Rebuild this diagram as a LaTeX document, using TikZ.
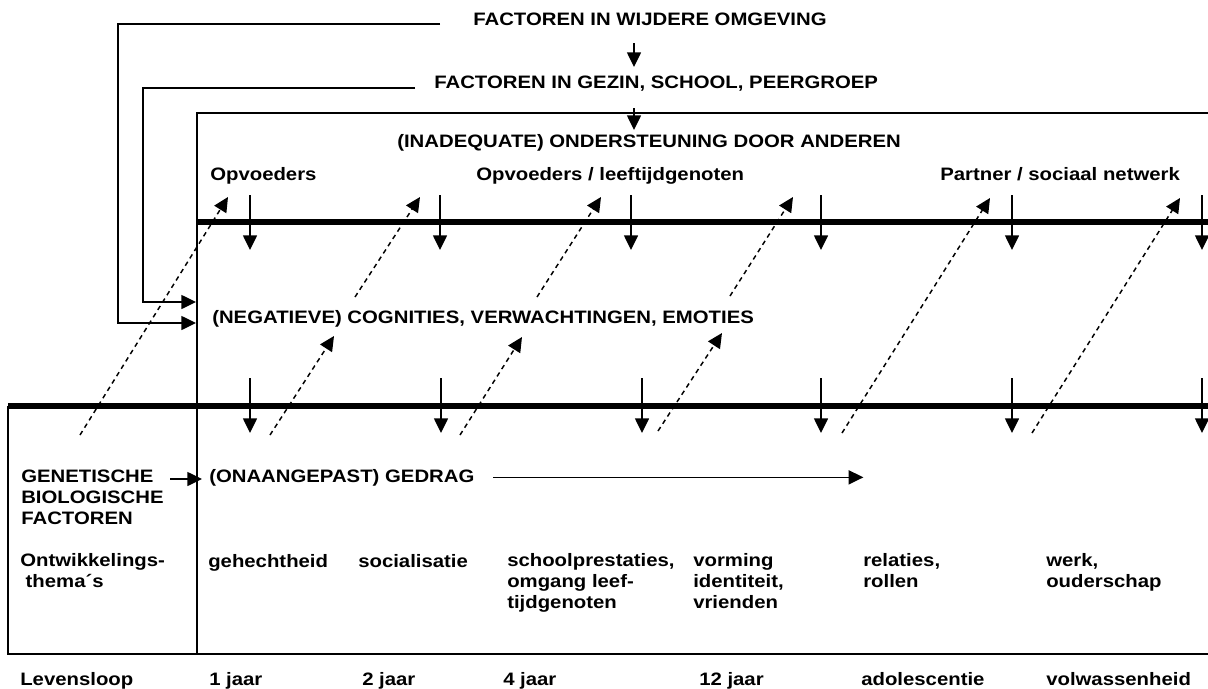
\documentclass[tikz,border=0pt]{standalone}
\usepackage{fontspec}
\setmainfont{Liberation Sans}[FakeStretch=1.13]
\usetikzlibrary{arrows.meta}
\usetikzlibrary{positioning}

\begin{document}
\begin{tikzpicture}[x=0.75pt, y=-0.75pt,
  lbl/.style={anchor=base west, inner sep=0pt, align=left,
              font=\fontsize{13.5}{15.5}\selectfont\bfseries},
  ln/.style={line width=1.1pt},
  arr/.style={ln, -{Triangle[length=11pt, width=10.5pt]}},
  dsh/.style={arr, dash pattern=on 3.5pt off 3pt},
  bar/.style={line width=5pt}]

 \useasboundingbox (0,0) rectangle (1208,689);

 %level 1: omgeving
   \node[lbl] (wide) at (473,25) {FACTOREN IN WIJDERE OMGEVING};
   \node[lbl] (gezin) at (434,88) {FACTOREN IN GEZIN, SCHOOL, PEERGROEP};
   \node[lbl] (steun) at (397,147) {(INADEQUATE) ONDERSTEUNING DOOR ANDEREN};

 %arrow
   \coordinate (w0) at (634,43);  \coordinate (w1) at (634,67);
   \coordinate (g0) at (634,108); \coordinate (g1) at (634,130);
   \draw[arr] (w0) -- (w1);
   \draw[arr] (g0) -- (g1);

 %bent lines to the cognitions
   \coordinate (wl) at (440,24);  \coordinate (wt) at (196,323);
   \coordinate (gl) at (415,88);  \coordinate (gt) at (196,302);
   \draw[arr] (wl) -- ++(-322,0) |- (wt);
   \draw[arr] (gl) -- ++(-272,0) |- (gt);

 %frame
   \draw[ln] (1208,113) -- (197,113) -- (197,654);
   \draw[ln] (8,406) -- (8,654) -- (1208,654);
   \draw[bar] (197,222) -- (1208,222);
   \draw[bar] (8,406) -- (1208,406);

 %level 2: ondersteuning
   \node[lbl] (opv) at (210,180) {Opvoeders};
   \node[lbl] (opvl) at (476,180) {Opvoeders / leeftijdgenoten};
   \node[lbl] (partner) at (940,180) {Partner / sociaal netwerk};

  \foreach \x [count=\i] in {250,440,631,821,1012,1202} {
         \coordinate (up\i) at (\x,195);
         \coordinate (upt\i) at (\x,250);
         \draw[arr] (up\i) -- (upt\i);
 }

 %level 3: cognities
   \node[lbl] (cogn) at (212,323) {(NEGATIEVE) COGNITIES, VERWACHTINGEN, EMOTIES};

  \foreach \x [count=\i] in {250,441,642,821,1012,1202} {
         \coordinate (lo\i) at (\x,378);
         \coordinate (lot\i) at (\x,433);
         \draw[arr] (lo\i) -- (lot\i);
 }

 %dashed feedback
  \foreach \a/\b/\c/\d [count=\i] in {80/435/228/197, 270/435/334/336,
        355/297/420/197, 460/435/522/337, 537/297/601/197, 658/431/722/333,
        730/296/793/197, 842/433/990/198, 1032/433/1180/198} {
         \coordinate (ds\i) at (\a,\b);
         \coordinate (de\i) at (\c,\d);
         \draw[dsh] (ds\i) -- (de\i);
 }

 %level 4: gedrag (base = last line)
   \node[lbl] (gen) at (21,524) {GENETISCHE\\BIOLOGISCHE\\FACTOREN};
   \node[lbl] (gedrag) at (209,482) {(ONAANGEPAST) GEDRAG};
   \coordinate (b0) at (170,479); \coordinate (b1) at (202,479);
   \draw[arr] (b0) -- (b1);
   \draw[arr] ([xshift=14pt]gedrag.east) -- ++(370,0);

 %themes
   \node[lbl] (thema) at (20,587) {Ontwikkelings-\\\hspace{0.3em}thema´s};
   \node[lbl] (t1) at (208,567) {gehechtheid};
   \node[lbl] (t2) at (358,567) {socialisatie};
   \node[lbl] (t3) at (507,608) {schoolprestaties,\\omgang leef-\\tijdgenoten};
   \node[lbl] (t4) at (693,608) {vorming\\identiteit,\\vrienden};
   \node[lbl] (t5) at (863,587) {relaties,\\rollen};
   \node[lbl] (t6) at (1046,587) {werk,\\ouderschap};

 %levensloop
   \node[lbl] (loop) at (20,685) {Levensloop};
  \foreach \x/\name [count=\i] in {209/1 jaar, 362/2 jaar, 503/4 jaar,
        699/12 jaar, 861/adolescentie, 1046/volwassenheid} {
         \node[lbl] (age\i) at (\x,685) {\name};
 }

\end{tikzpicture}
\end{document}
